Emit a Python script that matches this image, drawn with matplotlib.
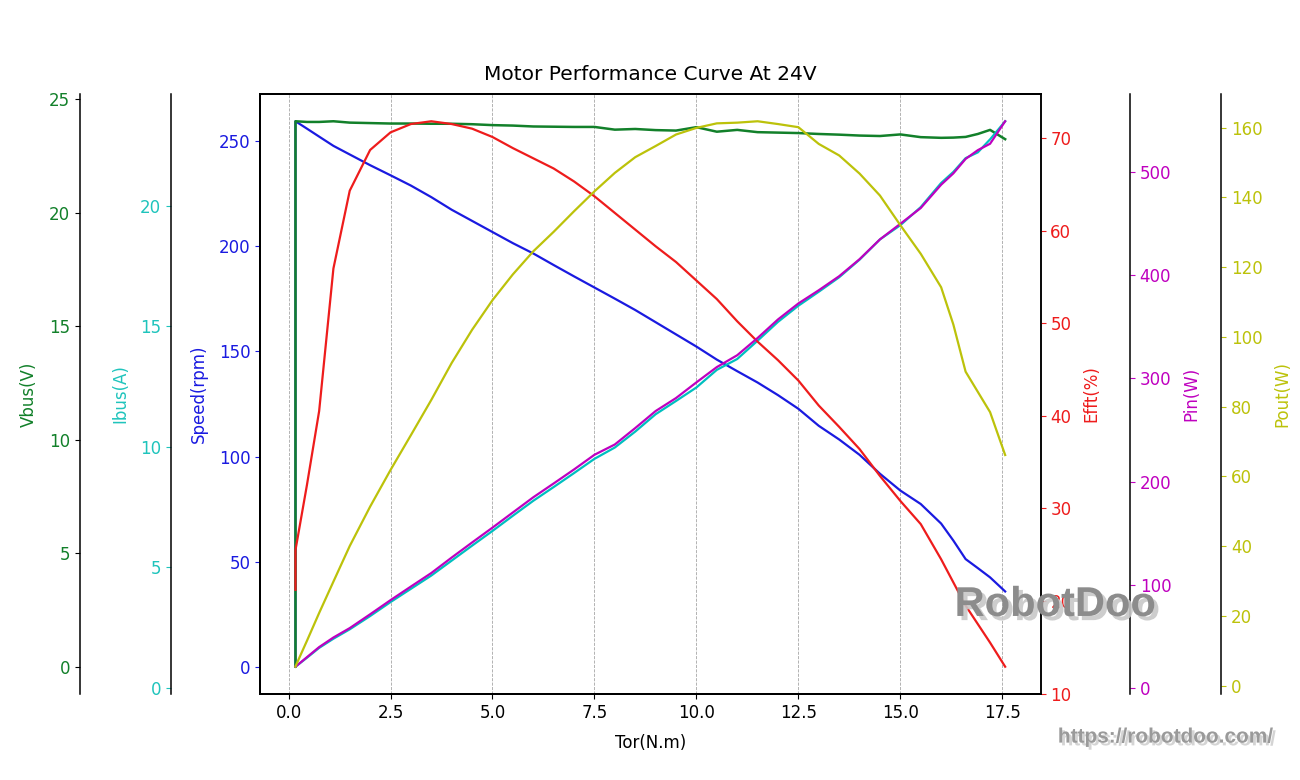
import matplotlib
matplotlib.use('Agg')
import matplotlib.pyplot as plt
import matplotlib.patheffects as pe

# values
torque = [0.17, 0.17, 0.45, 0.75, 1.1, 1.5, 2.0, 2.5, 3.0, 3.5, 4.0, 4.5, 5.0, 5.5, 6.0, 6.5,
          7.0, 7.5, 8.0, 8.5, 9.0, 9.5, 10.0, 10.5, 11.0, 11.5, 12.0, 12.5, 13.0, 13.5, 14.0,
          14.5, 15.0, 15.5, 16.0, 16.3, 16.6, 16.9, 17.2, 17.57]
speed = [0, 259.5, 256.0, 252.2, 247.8, 243.7, 238.6, 233.8, 228.9, 223.4, 217.4, 212.1, 206.8,
         201.5, 196.6, 191.1, 185.7, 180.4, 175.1, 169.7, 163.9, 158.1, 152.3, 146.1, 140.6,
         135.2, 129.2, 122.7, 114.6, 108.1, 100.8, 91.8, 83.8, 77.4, 68.1, 60.0, 51.2, 46.9,
         42.5, 35.8]
vbus = [0, 24.03, 24.0, 24.0, 24.03, 23.97, 23.95, 23.93, 23.93, 23.92, 23.92, 23.90, 23.86,
        23.84, 23.80, 23.79, 23.78, 23.78, 23.66, 23.69, 23.64, 23.62, 23.77, 23.57, 23.65,
        23.55, 23.53, 23.51, 23.47, 23.44, 23.40, 23.38, 23.45, 23.33, 23.30, 23.31, 23.34,
        23.47, 23.65, 23.24]
ibus = [0.88, 0.88, 1.25, 1.66, 2.04, 2.43, 2.98, 3.56, 4.11, 4.66, 5.28, 5.90, 6.51, 7.14,
        7.76, 8.33, 8.91, 9.50, 9.97, 10.63, 11.35, 11.90, 12.46, 13.19, 13.64, 14.40, 15.18,
        15.85, 16.43, 17.03, 17.76, 18.60, 19.19, 19.94, 20.94, 21.40, 21.97, 22.21, 22.75, 23.5]
effi = [21.2, 25.5, 32.5, 40.5, 55.9, 64.3, 68.7, 70.6, 71.5, 71.8, 71.5, 71.0, 70.1, 68.9,
        67.8, 66.7, 65.3, 63.7, 61.9, 60.1, 58.3, 56.6, 54.6, 52.6, 50.2, 48.0, 46.0, 43.8,
        41.1, 38.8, 36.4, 33.5, 30.8, 28.3, 24.5, 22.0, 19.5, 17.5, 15.5, 12.9]
pin = [20.6, 20.6, 29.8, 39.6, 48.9, 58.0, 71.4, 85.1, 98.3, 111.4, 126.4, 141.0, 155.4, 170.1,
       184.8, 198.2, 211.8, 226.0, 236.0, 251.9, 268.4, 281.0, 296.2, 311.0, 322.5, 339.2,
       357.2, 372.7, 385.5, 399.1, 415.6, 434.8, 449.9, 465.2, 487.8, 498.8, 512.8, 521.3,
       527.5, 549.3]
pout = [5.4, 5.5, 12.8, 20.8, 29.8, 40.0, 51.3, 61.8, 71.8, 81.9, 92.5, 102.0, 110.5, 117.9,
        124.5, 130.1, 136.0, 141.7, 147.0, 151.5, 154.7, 158.0, 159.9, 161.2, 161.4, 161.8,
        161.0, 160.1, 155.3, 152.0, 146.8, 140.5, 132.0, 123.8, 114.2, 103.5, 90.0, 84.2,
        78.4, 66.1]

plt.rcParams['font.size'] = 12

fig = plt.figure(figsize=(13, 7.8), dpi=100)
host = fig.add_axes([0.2, 0.1103, 0.6005, 0.7692])

host.plot(torque, speed, color='#1a1ae0', lw=1.6)
ax_v = host.twinx()
ax_v.plot(torque, vbus, color='#12802a', lw=1.8)
ax_i = host.twinx()
ax_i.plot(torque, ibus, 'c', lw=1.6)
ax_e = host.twinx()
ax_e.plot(torque, effi, color='#ee1c1c', lw=1.6)
ax_p = host.twinx()
ax_p.plot(torque, pin, 'm', lw=1.6)
ax_o = host.twinx()
ax_o.plot(torque, pout, color='#bcc20a', lw=1.6)

# extra spines on the left
for ax, off in ((ax_v, -0.2306), (ax_i, -0.114)):
    ax.spines['left'].set_position(('axes', off))
    ax.spines['left'].set_visible(True)
    ax.spines['right'].set_visible(False)
    ax.yaxis.set_ticks_position('left')
    ax.yaxis.set_label_position('left')

# extra spines on the right
ax_p.spines['right'].set_position(('axes', 1.1144))
ax_o.spines['right'].set_position(('axes', 1.2313))

for ax in (host, ax_v, ax_i, ax_e, ax_p, ax_o):
    for s in ax.spines.values():
        s.set_linewidth(1.1)

lp = 8
host.set_xlabel('Tor(N.m)', labelpad=9)
host.set_ylabel('Speed(rpm)', color='#1a1ae0', labelpad=lp)
ax_v.set_ylabel('Vbus(V)', color='#12802a', labelpad=lp)
ax_i.set_ylabel('Ibus(A)', color='#1fc4bc', labelpad=lp)
ax_e.set_ylabel('Efft(%)', color='#ee1c1c', labelpad=lp)
ax_p.set_ylabel('Pin(W)', color='m', labelpad=lp)
ax_o.set_ylabel('Pout(W)', color='#bcc20a', labelpad=lp)

host.tick_params(axis='y', colors='#1a1ae0')
ax_v.tick_params(axis='y', labelcolor='#12802a')
ax_i.tick_params(axis='y', colors='#1fc4bc')
ax_e.tick_params(axis='y', colors='#ee1c1c')
ax_p.tick_params(axis='y', colors='m')
ax_o.tick_params(axis='y', colors='#bcc20a')

host.grid(axis='x', linestyle='--', color='gray', lw=0.6, alpha=0.7)
host.set_title('Motor Performance Curve At 24V', fontsize=14.5, pad=10)

# watermark
fig.text(0.8115, 0.2244, 'RobotDoo', fontsize=30, fontweight='bold', family='Liberation Sans',
         color='#8c8c8c', ha='center', va='center',
         path_effects=[pe.withSimplePatchShadow(offset=(3, -3), shadow_rgbFace='#c8c8c8', alpha=0.9)])
fig.text(0.897, 0.055, 'https://robotdoo.com/', fontsize=15, fontweight='bold',
         family='Liberation Sans', color='#9a9a9a', ha='center', va='center',
         path_effects=[pe.withSimplePatchShadow(offset=(2, -2), shadow_rgbFace='#d0d0d0', alpha=0.9)])

fig.savefig('out.png', dpi=100)
